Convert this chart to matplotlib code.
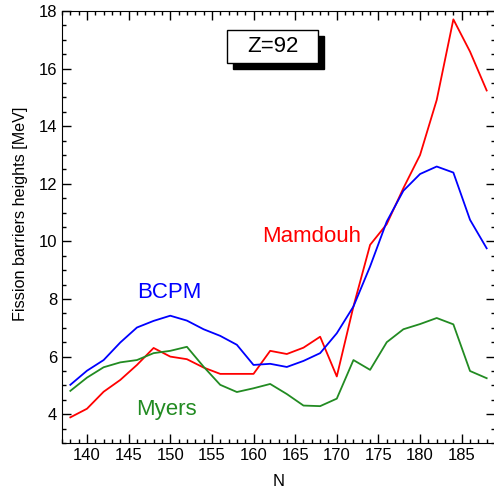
import matplotlib
matplotlib.use("Agg")
import matplotlib.pyplot as plt
from matplotlib.patches import Rectangle
from matplotlib.ticker import MultipleLocator

plt.rcParams['font.family'] = ['Liberation Sans', 'DejaVu Sans']

# neutron numbers
n_vals = [138, 140, 142, 144, 146, 148, 150, 152, 154, 156, 158, 160, 162,
          164, 166, 168, 170, 172, 174, 176, 178, 180, 182, 184, 186, 188]

mamdouh = [3.89, 4.19, 4.78, 5.19, 5.71, 6.30, 6.00, 5.91, 5.62, 5.40, 5.40, 5.40, 6.20,
           6.09, 6.31, 6.69, 5.31, 7.74, 9.88, 10.60, 11.85, 13.00, 14.91, 17.71, 16.59, 15.24]
bcpm = [5.02, 5.51, 5.88, 6.49, 7.01, 7.24, 7.42, 7.25, 6.95, 6.72, 6.41, 5.71, 5.75,
        5.64, 5.85, 6.12, 6.81, 7.74, 9.13, 10.69, 11.76, 12.34, 12.60, 12.39, 10.75, 9.76]
myers = [4.81, 5.27, 5.63, 5.80, 5.88, 6.12, 6.20, 6.34, 5.65, 5.02, 4.77, 4.90, 5.05,
         4.70, 4.30, 4.28, 4.54, 5.88, 5.54, 6.50, 6.95, 7.13, 7.34, 7.12, 5.50, 5.25]

fig = plt.figure(figsize=(4.94, 4.90), dpi=100)
ax = fig.add_axes([62 / 494, 47 / 490, 433 / 494, 432 / 490])

ax.plot(n_vals, mamdouh, color='red', lw=1.3)
ax.plot(n_vals, bcpm, color='blue', lw=1.3)
ax.plot(n_vals, myers, color='#228B22', lw=1.3)

ax.text(167.0, 9.99, 'Mamdouh', color='red', fontsize=16, ha='center', va='baseline')
ax.text(149.9, 8.03, 'BCPM', color='blue', fontsize=16, ha='center', va='baseline')
ax.text(149.6, 3.97, 'Myers', color='#228B22', fontsize=16, ha='center', va='baseline')

# Z=92 box with shadow
ax.add_patch(Rectangle((0.396, 0.866), 0.2085, 0.076, transform=ax.transAxes,
                       facecolor='black', edgecolor='black', zorder=5))
ax.add_patch(Rectangle((0.382, 0.880), 0.2085, 0.076, transform=ax.transAxes,
                       facecolor='white', edgecolor='black', lw=1.0, zorder=6))
ax.text(0.4865, 0.918, 'Z=92', transform=ax.transAxes, fontsize=16,
        ha='center', va='center', zorder=7)

ax.set_xlim(137, 189)
ax.set_ylim(3, 18)
ax.xaxis.set_major_locator(MultipleLocator(5))
ax.xaxis.set_minor_locator(MultipleLocator(1))
ax.yaxis.set_major_locator(MultipleLocator(2))
ax.yaxis.set_minor_locator(MultipleLocator(0.5))
ax.tick_params(which='both', direction='in', top=True, right=True, labelsize=12)
ax.tick_params(which='major', length=6.5, width=1)
ax.tick_params(which='minor', length=3.2, width=1)

ax.set_xlabel('N', fontsize=12, labelpad=8)
ax.set_ylabel('Fission barriers heights [MeV]', fontsize=11.6, labelpad=7.5)
ax.yaxis.label.set_y(0.53)

fig.savefig('out.png', dpi=100)
